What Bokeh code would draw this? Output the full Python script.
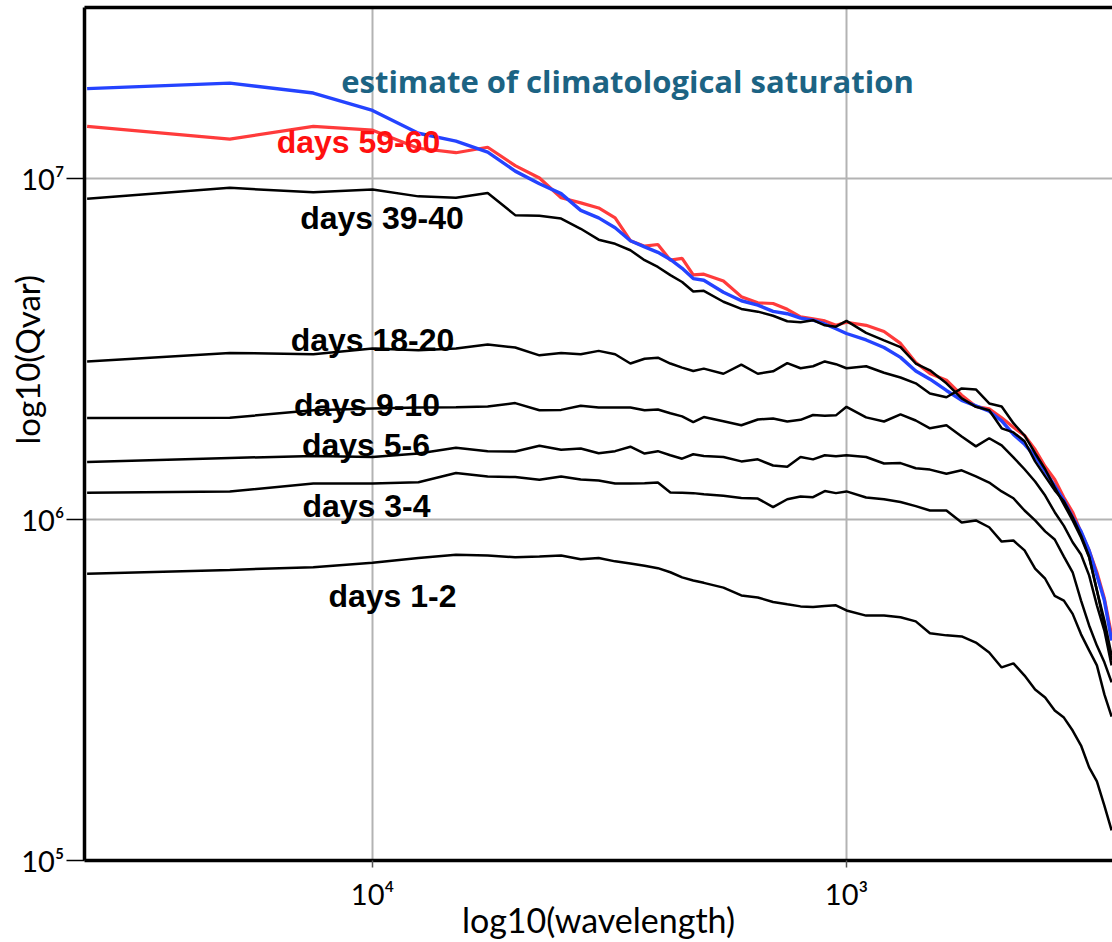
import math
from bokeh.plotting import figure
from bokeh.models import Range1d, FixedTicker, CustomJSTickFormatter, LinearAxis, Label
from bokeh.embed import file_html
from bokeh.resources import INLINE

# zonal wavenumber n -> wavelength (km) = 40000 / n
CIRCUMFERENCE_KM = 40000
wavenumber = [1, 2, 3, 4, 5, 6, 7, 8, 9, 10,
              11, 12, 13, 14, 15, 16, 17, 18, 19, 20,
              22, 24, 26, 28, 30, 32, 34, 36, 38, 40,
              44, 48, 52, 56, 60, 65, 70, 75, 80, 85,
              90, 95, 100, 105, 110, 115, 120, 125, 130, 135, 140, 145]

# log10(Qvar)
saturation = [7.263, 7.279, 7.250, 7.199, 7.132, 7.109, 7.077, 7.021, 6.984, 6.955,
              6.906, 6.884, 6.855, 6.817, 6.799, 6.783, 6.762, 6.736, 6.706, 6.701,
              6.666, 6.641, 6.628, 6.610, 6.603, 6.590, 6.584, 6.573, 6.559, 6.545,
              6.526, 6.504, 6.475, 6.435, 6.411, 6.378, 6.349, 6.333, 6.317, 6.289,
              6.249, 6.220, 6.185, 6.141, 6.098, 6.056, 6.006, 5.965, 5.909, 5.836, 5.762, 5.645]
days_59_60 = [7.152, 7.115, 7.152, 7.141, 7.088, 7.075, 7.091, 7.037, 7.001, 6.943,
              6.928, 6.913, 6.884, 6.817, 6.801, 6.806, 6.760, 6.765, 6.717, 6.719,
              6.699, 6.653, 6.635, 6.633, 6.616, 6.594, 6.588, 6.582, 6.569, 6.578,
              6.569, 6.551, 6.516, 6.460, 6.428, 6.408, 6.364, 6.331, 6.324, 6.298,
              6.270, 6.246, 6.205, 6.155, 6.117, 6.064, 6.021, 5.962, 5.909, 5.845, 5.768, 5.660]
days_39_40 = [6.940, 6.972, 6.959, 6.967, 6.947, 6.943, 6.957, 6.892, 6.890, 6.882,
              6.852, 6.820, 6.808, 6.789, 6.760, 6.740, 6.716, 6.696, 6.668, 6.670,
              6.638, 6.617, 6.609, 6.597, 6.581, 6.578, 6.584, 6.569, 6.565, 6.582,
              6.547, 6.525, 6.505, 6.457, 6.437, 6.399, 6.355, 6.330, 6.320, 6.267,
              6.255, 6.229, 6.170, 6.126, 6.085, 6.053, 6.006, 5.953, 5.891, 5.792, 5.704, 5.601]
days_18_20 = [6.463, 6.488, 6.484, 6.501, 6.496, 6.501, 6.513, 6.504, 6.481, 6.488,
              6.484, 6.494, 6.484, 6.457, 6.471, 6.474, 6.457, 6.445, 6.435, 6.442,
              6.427, 6.454, 6.427, 6.434, 6.458, 6.443, 6.449, 6.463, 6.455, 6.443,
              6.449, 6.430, 6.416, 6.399, 6.369, 6.358, 6.384, 6.381, 6.340, 6.331,
              6.282, 6.246, 6.194, 6.147, 6.094, 6.044, 5.997, 5.947, 5.889, 5.792, 5.689, 5.587]
days_9_10 = [6.297, 6.298, 6.320, 6.325, 6.328, 6.329, 6.331, 6.341, 6.320, 6.321,
             6.333, 6.328, 6.328, 6.328, 6.320, 6.322, 6.311, 6.302, 6.285, 6.300,
             6.288, 6.276, 6.293, 6.296, 6.287, 6.292, 6.306, 6.304, 6.305, 6.330,
             6.299, 6.287, 6.308, 6.290, 6.267, 6.276, 6.243, 6.214, 6.238, 6.217,
             6.182, 6.147, 6.111, 6.070, 6.021, 5.981, 5.933, 5.897, 5.836, 5.748, 5.674, 5.572]
days_5_6 = [6.168, 6.180, 6.186, 6.183, 6.193, 6.210, 6.200, 6.199, 6.216, 6.204,
            6.208, 6.194, 6.200, 6.213, 6.193, 6.200, 6.188, 6.178, 6.191, 6.186,
            6.183, 6.170, 6.176, 6.158, 6.154, 6.183, 6.176, 6.188, 6.185, 6.188,
            6.183, 6.164, 6.165, 6.150, 6.146, 6.134, 6.144, 6.126, 6.108, 6.082,
            6.062, 6.026, 5.997, 5.965, 5.941, 5.891, 5.845, 5.762, 5.689, 5.630, 5.581, 5.522]
days_3_4 = [6.078, 6.082, 6.105, 6.105, 6.109, 6.136, 6.126, 6.124, 6.116, 6.126,
            6.117, 6.114, 6.105, 6.105, 6.106, 6.108, 6.079, 6.078, 6.077, 6.074,
            6.069, 6.063, 6.061, 6.036, 6.059, 6.067, 6.065, 6.083, 6.077, 6.082,
            6.064, 6.059, 6.051, 6.039, 6.026, 6.026, 5.991, 5.997, 5.977, 5.935,
            5.938, 5.909, 5.856, 5.826, 5.776, 5.762, 5.723, 5.663, 5.616, 5.572, 5.487, 5.422]
days_1_2 = [5.841, 5.852, 5.860, 5.873, 5.887, 5.896, 5.894, 5.889, 5.891, 5.894,
            5.883, 5.887, 5.877, 5.871, 5.864, 5.857, 5.845, 5.830, 5.821, 5.814,
            5.800, 5.777, 5.771, 5.758, 5.751, 5.745, 5.743, 5.746, 5.748, 5.733,
            5.718, 5.718, 5.713, 5.701, 5.666, 5.660, 5.657, 5.639, 5.610, 5.566,
            5.578, 5.542, 5.501, 5.478, 5.440, 5.419, 5.381, 5.337, 5.273, 5.232, 5.161, 5.088]

x_ticks = [1e4, 1e3]
y_ticks = [1e5, 1e6, 1e7]
x_title = "log10(wavelength)"
y_title = "log10(Qvar)"

wavelength = [CIRCUMFERENCE_KM / n for n in wavenumber]

def lin(vals):
    return [10 ** v for v in vals]

p = figure(width=1112, height=942, x_axis_type="log", y_axis_type="log",
           x_range=Range1d(10 ** 4.6076, 10 ** 2.4388),
           y_range=Range1d(1e5, 10 ** 7.5007),
           output_backend="svg", toolbar_location=None,
           min_border_left=84, min_border_right=0, min_border_top=7, min_border_bottom=81)
p.outline_line_color = None
p.background_fill_color = "white"
p.border_fill_color = "white"

sup_fmt = CustomJSTickFormatter(code="""
const sup = {'0':'\u2070','1':'\u00b9','2':'\u00b2','3':'\u00b3','4':'\u2074','5':'\u2075','6':'\u2076','7':'\u2077','8':'\u2078','9':'\u2079','-':'\u207b'};
const e = Math.round(Math.log10(tick));
return '10' + String(e).split('').map(c => sup[c]).join('');
""")

TICK_FONT = "Lato"
for ax in p.yaxis:
    ax.ticker = FixedTicker(ticks=y_ticks, minor_ticks=[])
    ax.formatter = sup_fmt
    ax.axis_line_width = 3.5
    ax.axis_line_color = "black"
    ax.major_tick_out = 18
    ax.major_tick_in = 0
    ax.major_tick_line_width = 1.5
    ax.major_tick_line_color = "black"
    ax.minor_tick_line_color = None
    ax.major_label_standoff = 2
    ax.major_label_text_font = TICK_FONT
    ax.major_label_text_font_size = "29px"
    ax.major_label_text_color = "black"
    # the title sits above the frame centre in the reference: pad its start with em spaces
    ax.axis_label = "\u2003" * 6 + y_title
    ax.axis_label_text_font = TICK_FONT
    ax.axis_label_text_font_size = "33px"
    ax.axis_label_text_font_style = "normal"
    ax.axis_label_text_color = "black"
    ax.axis_label_standoff = -29

for ax in p.xaxis:
    ax.ticker = FixedTicker(ticks=x_ticks, minor_ticks=[])
    ax.formatter = sup_fmt
    ax.axis_line_width = 3.5
    ax.axis_line_color = "black"
    ax.major_tick_out = 7
    ax.major_tick_in = 0
    ax.major_tick_line_width = 1.5
    ax.major_tick_line_color = "#555555"
    ax.minor_tick_line_color = None
    ax.major_label_standoff = 8
    ax.major_label_text_font = TICK_FONT
    ax.major_label_text_font_size = "29px"
    ax.major_label_text_color = "black"
    ax.axis_label = x_title
    ax.axis_label_text_font = TICK_FONT
    ax.axis_label_text_font_size = "34px"
    ax.axis_label_text_font_style = "normal"
    ax.axis_label_text_color = "black"
    ax.axis_label_standoff = -15

top_axis = LinearAxis(ticker=FixedTicker(ticks=[]), axis_line_width=3.5, axis_line_color="black",
                      major_tick_line_color=None, minor_tick_line_color=None,
                      major_tick_out=0, major_tick_in=0, major_label_standoff=0,
                      major_label_text_font_size="0px")
p.add_layout(top_axis, "above")

p.grid.grid_line_color = "#b3b3b3"
p.grid.grid_line_width = 2
p.grid.minor_grid_line_color = None

# curves
p.line(wavelength, lin(days_59_60), line_color="#ff3b3b", line_width=3.2)
p.line(wavelength, lin(saturation), line_color="#2443ff", line_width=3.4)
for series in [days_39_40, days_18_20, days_9_10, days_5_6, days_3_4, days_1_2]:
    p.line(wavelength, lin(series), line_color="black", line_width=2.5)

# curve annotations (positions in log10 data space)
def add_label(text, lx, ly, color="black", font="Liberation Sans", size="32px"):
    p.add_layout(Label(x=10 ** lx, y=10 ** ly, text=text, text_align="center",
                       text_baseline="middle", text_color=color, text_font=font,
                       text_font_size=size, text_font_style="bold"))

add_label("estimate of climatological saturation", 3.462, 7.284, color="#1c6383", font="Open Sans", size="31px")
add_label("days 59-60", 4.0295, 7.1056, color="#ff1010")
add_label("days 39-40", 3.980, 6.8827)
add_label("days 18-20", 4.000, 6.525)
add_label("days 9-10", 4.0116, 6.3343)
add_label("days 5-6", 4.0137, 6.217)
add_label("days 3-4", 4.0127, 6.0381)
add_label("days 1-2", 3.9578, 5.7742)

open("out.html", "w").write(file_html(p, INLINE))
